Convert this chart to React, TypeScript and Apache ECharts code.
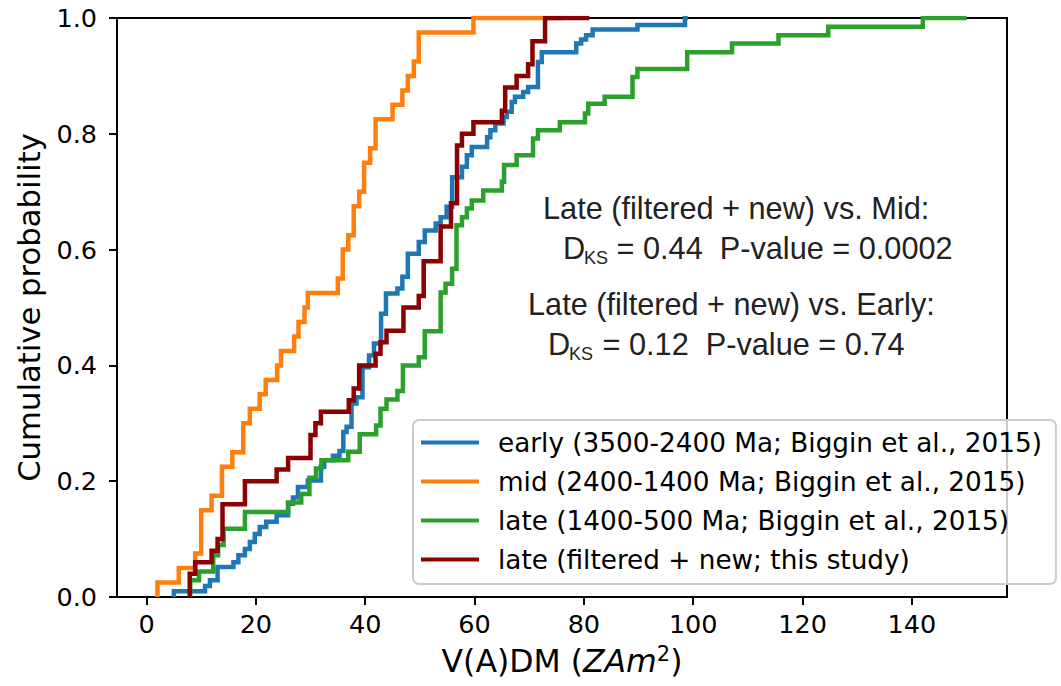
import React, { useEffect, useRef } from "react";
import * as echarts from "echarts";

// ---- data (ECDF corner points: value, cumulative probability) ----
const xTicks = [0, 20, 40, 60, 80, 100, 120, 140];
const yTicks = [0, 0.2, 0.4, 0.6, 0.8, 1.0];

const seriesNames = [
  "early (3500-2400 Ma; Biggin et al., 2015)",
  "mid (2400-1400 Ma; Biggin et al., 2015)",
  "late (1400-500 Ma; Biggin et al., 2015)",
  "late (filtered + new; this study)",
];
const seriesColors = ["#1f77b4", "#ff7f0e", "#2ca02c", "#8b0000"];

const earlyX = [5.0, 10.7, 11.6, 13.0, 15.9, 16.8, 18.0, 18.9, 19.8, 20.7, 21.9, 23.8, 25.9, 26.8, 27.7, 29.5, 31.9, 32.5, 34.1, 35.3, 36.0, 36.6, 37.5, 38.4, 39.5, 40.7, 41.6, 42.9, 43.8, 45.9, 46.8, 47.8, 49.8, 50.9, 52.9, 53.8, 54.9, 55.9, 57.7, 58.6, 59.5, 62.3, 62.9, 63.8, 65.3, 65.9, 66.8, 67.4, 68.9, 69.8, 71.6, 72.3, 78.6, 79.5, 80.4, 81.6, 89.8, 98.5];
const earlyY = [0.010, 0.019, 0.029, 0.052, 0.060, 0.072, 0.083, 0.095, 0.109, 0.121, 0.130, 0.141, 0.161, 0.172, 0.190, 0.201, 0.225, 0.236, 0.244, 0.252, 0.285, 0.294, 0.334, 0.345, 0.397, 0.417, 0.438, 0.489, 0.524, 0.533, 0.553, 0.593, 0.613, 0.633, 0.645, 0.656, 0.674, 0.725, 0.743, 0.763, 0.777, 0.794, 0.806, 0.818, 0.829, 0.838, 0.855, 0.864, 0.872, 0.881, 0.924, 0.941, 0.956, 0.963, 0.970, 0.980, 0.988, 1.0];
const earlyEnd = 99;

const midX = [2.0, 5.9, 8.9, 10.0, 11.9, 13.8, 15.7, 17.7, 18.9, 20.7, 21.8, 23.9, 24.6, 27.0, 27.8, 28.9, 29.5, 35.0, 35.9, 36.9, 37.9, 38.9, 39.8, 40.9, 41.9, 45.0, 46.8, 47.8, 48.9, 49.8, 59.8];
const midY = [0.025, 0.05, 0.075, 0.15, 0.175, 0.225, 0.25, 0.3, 0.325, 0.35, 0.375, 0.4, 0.425, 0.45, 0.475, 0.5, 0.525, 0.55, 0.6, 0.625, 0.675, 0.7, 0.75, 0.775, 0.825, 0.85, 0.875, 0.9, 0.925, 0.975, 1.0];
const midEnd = 76;

const lateX = [8.0, 9.6, 12.2, 13.1, 14.1, 18.0, 25.9, 28.3, 29.8, 31.0, 32.0, 36.9, 39.0, 42.0, 42.8, 43.9, 45.9, 46.9, 49.8, 50.9, 53.8, 54.7, 55.9, 56.7, 57.7, 58.6, 59.5, 61.6, 65.0, 65.4, 67.7, 70.7, 71.6, 75.6, 80.2, 80.8, 83.8, 88.9, 89.8, 98.9, 107.1, 115.6, 124.7, 142.0];
const lateY = [0.029, 0.044, 0.072, 0.090, 0.118, 0.147, 0.163, 0.178, 0.206, 0.222, 0.236, 0.251, 0.281, 0.296, 0.325, 0.341, 0.356, 0.400, 0.414, 0.459, 0.526, 0.541, 0.567, 0.642, 0.656, 0.671, 0.685, 0.702, 0.717, 0.746, 0.763, 0.792, 0.806, 0.820, 0.835, 0.852, 0.864, 0.898, 0.912, 0.941, 0.956, 0.970, 0.985, 1.0];
const lateEnd = 150;

const newX = [7.9, 8.9, 11.9, 13.0, 13.9, 18.0, 23.8, 25.9, 30.0, 30.9, 31.9, 37.0, 37.9, 38.9, 41.9, 42.8, 43.9, 47.0, 49.8, 50.7, 53.8, 55.7, 56.8, 57.7, 59.8, 65.0, 65.6, 67.7, 69.8, 70.6, 72.9];
const newY = [0.04, 0.06, 0.08, 0.10, 0.16, 0.20, 0.22, 0.24, 0.28, 0.30, 0.32, 0.34, 0.36, 0.40, 0.42, 0.44, 0.46, 0.50, 0.52, 0.58, 0.64, 0.68, 0.78, 0.80, 0.82, 0.84, 0.88, 0.90, 0.92, 0.96, 1.0];
const newEnd = 81;

const annotationLines = [
  "Late (filtered + new) vs. Mid:",
  " = 0.44  P-value = 0.0002",
  "Late (filtered + new) vs. Early:",
  " = 0.12  P-value = 0.74",
];

function ecdfPoints(xs: number[], ys: number[], end: number) {
  const pts: number[][] = [[xs[0], 0]];
  for (let i = 0; i < xs.length; i++) pts.push([xs[i], ys[i]]);
  pts.push([end, ys[ys.length - 1]]);
  return pts;
}

const ANN_FONT = '30.7px "Liberation Sans", Arial, sans-serif';
const SUB_FONT = '18px "Liberation Sans", Arial, sans-serif';
const ANN_COLOR = "#222222";

export default function App() {
  const ref = useRef<HTMLDivElement>(null);
  useEffect(() => {
    if (!ref.current) return;
    const chart = echarts.init(ref.current, undefined, { renderer: "svg" });
    const allData = [
      ecdfPoints(earlyX, earlyY, earlyEnd),
      ecdfPoints(midX, midY, midEnd),
      ecdfPoints(lateX, lateY, lateEnd),
      ecdfPoints(newX, newY, newEnd),
    ];
    const option: any = {
      animation: false,
      backgroundColor: "#ffffff",
      grid: {
        left: 117,
        top: 18,
        right: 54,
        bottom: 89,
        show: true,
        borderColor: "#000",
        borderWidth: 2,
        backgroundColor: "transparent",
      },
      xAxis: {
        type: "value",
        min: -5.4,
        max: 157.4,
        splitLine: { show: false },
        axisLine: { show: true, onZero: false, lineStyle: { color: "#000", width: 2 } },
        axisTick: { show: true, length: 8, customValues: xTicks, lineStyle: { color: "#000", width: 2 } },
        axisLabel: {
          customValues: xTicks,
          margin: 14,
          color: "#000",
          fontFamily: "DejaVu Sans",
          fontSize: 25.5,
          formatter: (v: number) => String(v),
        },
        name: "{n|V(A)DM (}{i|ZAm}{s|2}{n|)}",
        nameLocation: "middle",
        nameGap: 46,
        nameTextStyle: {
          rich: {
            n: { fontFamily: "DejaVu Sans", fontSize: 31.5, color: "#000", lineHeight: 36 },
            i: { fontFamily: "DejaVu Sans", fontStyle: "italic", fontSize: 31.5, color: "#000", lineHeight: 36 },
            s: { fontFamily: "DejaVu Sans", fontSize: 21, color: "#000", lineHeight: 22, verticalAlign: "top" },
          },
        },
      },
      yAxis: {
        type: "value",
        min: 0,
        max: 1,
        interval: 0.2,
        splitLine: { show: false },
        axisLine: { show: true, onZero: false, lineStyle: { color: "#000", width: 2 } },
        axisTick: { show: true, length: 8, lineStyle: { color: "#000", width: 2 } },
        axisLabel: {
          margin: 20,
          color: "#000",
          fontFamily: "DejaVu Sans",
          fontSize: 25.5,
          formatter: (v: number) => (yTicks.includes(Math.round(v * 10) / 10) ? v.toFixed(1) : ""),
        },
        name: "Cumulative probability",
        nameLocation: "middle",
        nameRotate: 90,
        nameGap: 72,
        nameTextStyle: { fontFamily: "DejaVu Sans", fontSize: 30.7, color: "#000" },
      },
      legend: {
        orient: "vertical",
        left: 413,
        top: 420,
        data: seriesNames,
        icon: "rect",
        itemWidth: 58,
        itemHeight: 4,
        itemGap: 12,
        padding: [9, 14, 11, 8],
        backgroundColor: "rgba(255,255,255,0.8)",
        borderColor: "#cccccc",
        borderWidth: 2,
        borderRadius: 6,
        selectedMode: false,
        textStyle: {
          fontFamily: "DejaVu Sans",
          fontSize: 26.3,
          color: "#000",
          lineHeight: 27,
          padding: [0, 0, 0, 14],
        },
      },
      series: seriesNames.map((name, i) => ({
        name,
        type: "line",
        step: "end",
        data: allData[i],
        showSymbol: false,
        symbol: "none",
        color: seriesColors[i],
        lineStyle: { color: seriesColors[i], width: 4.5, join: "miter" },
        z: 2 + i,
        clip: true,
      })),
      graphic: [
        { type: "text", x: 543, y: 208, style: { text: annotationLines[0], font: ANN_FONT, fill: ANN_COLOR, align: "left", verticalAlign: "middle" } },
        { type: "text", x: 563, y: 248, style: { text: "D", font: ANN_FONT, fill: ANN_COLOR, align: "left", verticalAlign: "middle" } },
        { type: "text", x: 584, y: 258, style: { text: "KS", font: SUB_FONT, fill: ANN_COLOR, align: "left", verticalAlign: "middle" } },
        { type: "text", x: 608, y: 248, style: { text: annotationLines[1], font: ANN_FONT, fill: ANN_COLOR, align: "left", verticalAlign: "middle" } },
        { type: "text", x: 528, y: 304, style: { text: annotationLines[2], font: ANN_FONT, fill: ANN_COLOR, align: "left", verticalAlign: "middle" } },
        { type: "text", x: 548, y: 344, style: { text: "D", font: ANN_FONT, fill: ANN_COLOR, align: "left", verticalAlign: "middle" } },
        { type: "text", x: 569, y: 354, style: { text: "KS", font: SUB_FONT, fill: ANN_COLOR, align: "left", verticalAlign: "middle" } },
        { type: "text", x: 594, y: 344, style: { text: annotationLines[3], font: ANN_FONT, fill: ANN_COLOR, align: "left", verticalAlign: "middle" } },
      ],
    };
    chart.setOption(option);
    return () => chart.dispose();
  }, []);
  return (
    <div
      ref={ref}
      style={{ position: "fixed", left: 0, top: 0, width: 1061, height: 686, background: "#fff" }}
    />
  );
}
